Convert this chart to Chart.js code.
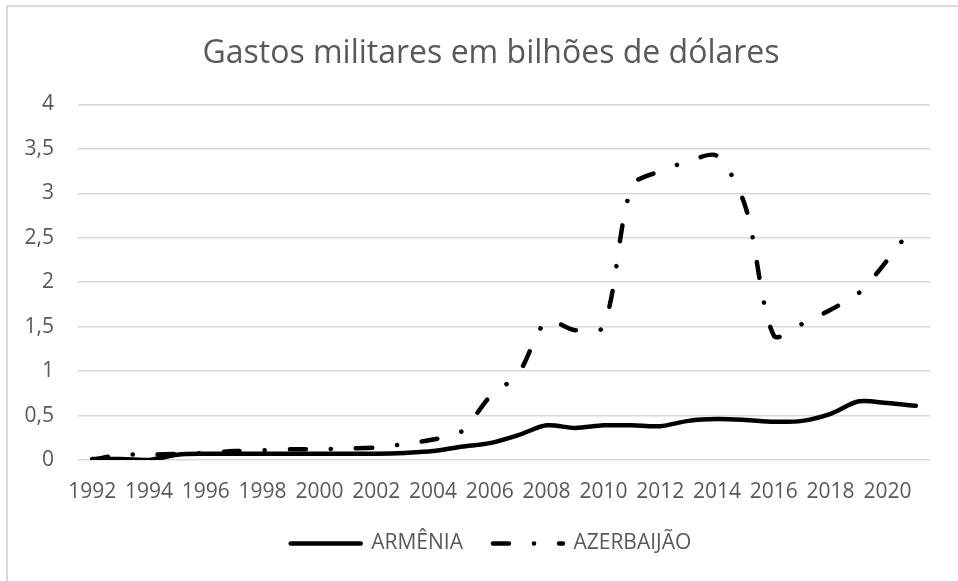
<!DOCTYPE html>
<html>
<head>
<meta charset="utf-8">
<script src="https://cdn.jsdelivr.net/npm/chart.js@4"></script>
<style>
  html, body { margin: 0; padding: 0; background: #fff; }
  #wrap { position: relative; width: 958px; height: 581px; overflow: hidden; }
  #frame { position: absolute; left: 6px; top: 5px; width: 1000px; height: 700px;
           border-left: 2px solid #d9d9d9; border-top: 2px solid #d9d9d9; }
  canvas { position: absolute; left: 0; top: 0; }
</style>
</head>
<body>
<div id="wrap">
  <div id="frame"></div>
  <canvas id="chart" width="958" height="581"></canvas>
</div>
<script>
// Military spending, billions of US dollars
const years = ["1992", "1993", "1994", "1995", "1996", "1997", "1998", "1999", "2000", "2001",
  "2002", "2003", "2004", "2005", "2006", "2007", "2008", "2009", "2010", "2011",
  "2012", "2013", "2014", "2015", "2016", "2017", "2018", "2019", "2020", "2021"]

const armenia = [0.01, 0.01, 0.0, 0.06, 0.07, 0.07, 0.07, 0.07, 0.07, 0.07,
  0.07, 0.08, 0.10, 0.15, 0.19, 0.28, 0.39, 0.36, 0.39, 0.39,
  0.38, 0.44, 0.46, 0.45, 0.43, 0.44, 0.52, 0.66, 0.64, 0.61]

const azerbaijan = [0.0, 0.06, 0.06, 0.07, 0.08, 0.10, 0.11, 0.12, 0.12, 0.13,
  0.14, 0.18, 0.23, 0.32, 0.71, 0.97, 1.56, 1.46, 1.50, 3.08,
  3.25, 3.36, 3.42, 2.85, 1.40, 1.53, 1.69, 1.88, 2.25, 2.67]

const yTicks = [0, 0.5, 1, 1.5, 2, 2.5, 3, 3.5, 4]

const textGrey = "#595959"
const gridGrey = "#d9d9d9"
const fontFamily = "'Open Sans', sans-serif"

new Chart(document.getElementById("chart"), {
  type: "line",
  data: {
    labels: years,
    datasets: [
      {
        label: "ARMÊNIA",
        data: armenia,
        borderColor: "#000",
        backgroundColor: "#000",
        borderWidth: 4.5,
        borderCapStyle: "round",
        borderJoinStyle: "round",
        pointRadius: 0,
        pointStyle: "line",
        tension: 0.3
      },
      {
        label: "AZERBAIJÃO",
        data: azerbaijan,
        borderColor: "#000",
        backgroundColor: "#000",
        borderWidth: 4.5,
        borderDash: [16, 25, 0.1, 25],
        borderCapStyle: "round",
        borderJoinStyle: "round",
        pointRadius: 0,
        pointStyle: "line",
        tension: 0.3
      }
    ]
  },
  options: {
    responsive: false,
    animation: false,
    devicePixelRatio: 1,
    layout: { padding: { left: 24, right: 0, top: 0, bottom: 17 } },
    plugins: {
      title: {
        display: true,
        text: "Gastos militares em bilhões de dólares",
        color: textGrey,
        font: { family: fontFamily, size: 32, weight: "normal" },
        padding: { top: 35, bottom: 31 }
      },
      legend: {
        position: "bottom",
        labels: {
          usePointStyle: true,
          pointStyleWidth: 70,
          boxHeight: 21,
          padding: 30,
          color: textGrey,
          font: { family: fontFamily, size: 21 },
          generateLabels: (chart) => {
            const items = Chart.defaults.plugins.legend.labels.generateLabels(chart)
            return items.map(item => {
              const ds = chart.data.datasets[item.datasetIndex]
              item.lineDash = ds.borderDash || []
              item.lineWidth = ds.borderWidth
              item.lineCap = "round"
              item.strokeStyle = ds.borderColor
              return item
            })
          }
        }
      },
      tooltip: { enabled: false }
    },
    scales: {
      x: {
        offset: true,
        grid: { display: false },
        border: { display: false },
        ticks: {
          autoSkip: false,
          maxRotation: 0,
          padding: 11,
          color: textGrey,
          font: { family: fontFamily, size: 21 },
          callback: (v, i) => (i % 2 === 0 ? years[i] : "")
        },
        afterFit: (scale) => { scale.height = 43 }
      },
      y: {
        min: 0,
        max: 4,
        afterBuildTicks: (scale) => { scale.ticks = yTicks.map(v => ({ value: v })) },
        grid: { color: gridGrey, lineWidth: 1.5, drawTicks: false },
        border: { display: false },
        ticks: {
          padding: 24,
          color: textGrey,
          font: { family: fontFamily, size: 21 },
          callback: v => String(v).replace(".", ",")
        },
        afterFit: (scale) => { scale.width = 54 }
      },
      yRight: {
        position: "right",
        grid: { display: false },
        border: { display: false },
        ticks: { display: false },
        afterFit: (scale) => { scale.width = 28 }
      }
    }
  }
})
</script>
</body>
</html>
